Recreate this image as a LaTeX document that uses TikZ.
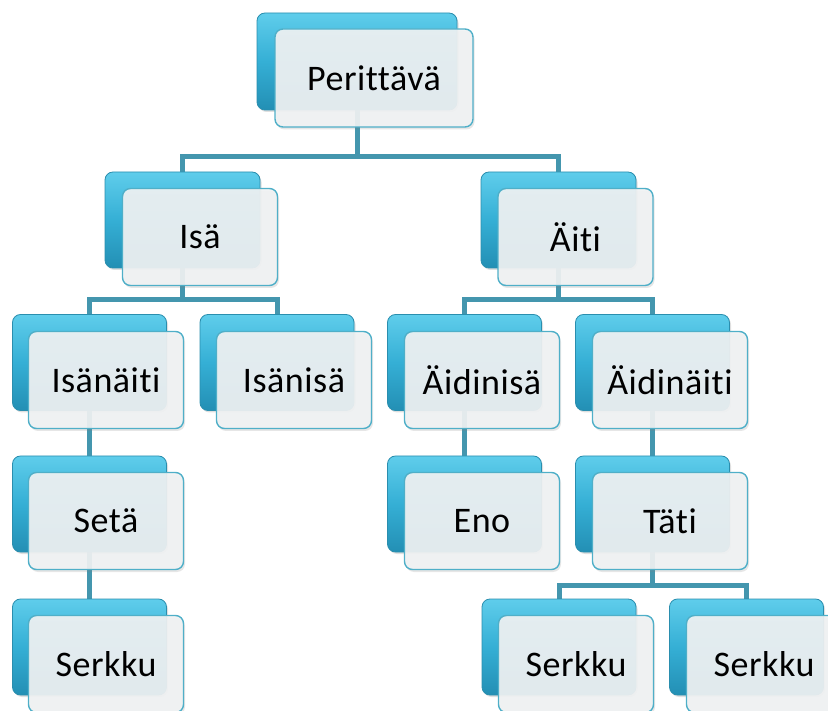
\documentclass[tikz,border=0pt]{standalone}
\usepackage{fontspec}
\setmainfont{Carlito}[RawFeature={-liga;-clig;-calt;-dlig}, LetterSpace=1.5]
\usetikzlibrary{backgrounds,shadows,calc}
\definecolor{connc}{HTML}{4496AE}
\definecolor{bluetop}{HTML}{5FCDEB}
\definecolor{bluemid}{HTML}{35AFD5}
\definecolor{bluebot}{HTML}{238FB4}
\definecolor{blueedge}{HTML}{2A8EAE}
\definecolor{whitefill}{HTML}{F0F2F3}
\definecolor{whiteedge}{HTML}{4FAFC8}
\tikzset{
  bluebox/.style={rounded corners=8pt, draw=blueedge, line width=0.8pt,
    top color=bluetop, bottom color=bluebot, middle color=bluemid, minimum width=154pt, minimum height=96pt,
    inner sep=0pt, drop shadow={opacity=0.25, shadow xshift=1.5pt, shadow yshift=-2pt}},
  whitebox/.style={rounded corners=8pt, draw=whiteedge, line width=1.4pt,
    fill=whitefill, fill opacity=0.92, text opacity=1, minimum width=155pt, minimum height=97pt,
    inner sep=0pt, font=\fontsize{36}{40}\selectfont, text=black,
    drop shadow={opacity=0.2, shadow xshift=1.5pt, shadow yshift=-2.5pt}},
  conn/.style={draw=connc, line width=5pt}
}
\begin{document}
\begin{tikzpicture}[x=1pt,y=-1pt]
\useasboundingbox (0,0) rectangle (828,711);
% level 1
\node[bluebox, minimum width=200pt, minimum height=97pt] (pB) at (357,61.5) {};
\node[whitebox, minimum width=198pt, minimum height=98pt] (pW) at (374,78) {Perittävä};
% level 2
\node[bluebox, minimum width=155pt] (iB) at (182.5,220) {};
\node[whitebox] (iW) at (200,237) {Isä};
\node[bluebox, minimum width=155pt] (aB) at (558.5,220) {};
\node[whitebox] (aW) at (575.5,237) {Äiti};
% level 3
\node[bluebox] (inB) at (89.5,362.5) {};
\node[whitebox] (inW) at (106,380) {Isänäiti};
\node[bluebox] (isB) at (277,362.5) {};
\node[whitebox] (isW) at (294,380) {Isänisä};
\node[bluebox] (aiB) at (464.5,362.5) {};
\node[whitebox] (aiW) at (482,380) {Äidinisä};
\node[bluebox] (anB) at (652.5,362.5) {};
\node[whitebox] (anW) at (670,380) {Äidinäiti};
% level 4
\node[bluebox] (sB) at (89.5,504) {};
\node[whitebox] (sW) at (106,521) {Setä};
\node[bluebox] (eB) at (464.5,504) {};
\node[whitebox] (eW) at (482,521) {Eno};
\node[bluebox] (tB) at (652.5,504) {};
\node[whitebox] (tW) at (670,521) {Täti};
% level 5
\node[bluebox] (k1B) at (89.5,647) {};
\node[whitebox] (k1W) at (106,664) {Serkku};
\node[bluebox] (k2B) at (559,647) {};
\node[whitebox] (k2W) at (576,664) {Serkku};
\node[bluebox] (k3B) at (746.5,647) {};
\node[whitebox] (k3W) at (764,664) {Serkku};
% connectors
\begin{scope}[on background layer]
  \coordinate (bar1) at (357,157);
  \coordinate (bar2) at (182.5,300);
  \coordinate (bar3) at (558.5,300);
  \coordinate (bar4) at (652.5,585);
  \draw[conn] (pB.center) -- (bar1) -| (iB.center);
  \draw[conn] (bar1) -| (aB.center);
  \draw[conn] (iB.center) -- (bar2) -| (inB.center);
  \draw[conn] (bar2) -| (isB.center);
  \draw[conn] (aB.center) -- (bar3) -| (aiB.center);
  \draw[conn] (bar3) -| (anB.center);
  \draw[conn] (inB.center) -- (sB.center) -- (k1B.center);
  \draw[conn] (aiB.center) -- (eB.center);
  \draw[conn] (anB.center) -- (tB.center) -- (bar4) -| (k2B.center);
  \draw[conn] (bar4) -| (k3B.center);
\end{scope}
\end{tikzpicture}
\end{document}
